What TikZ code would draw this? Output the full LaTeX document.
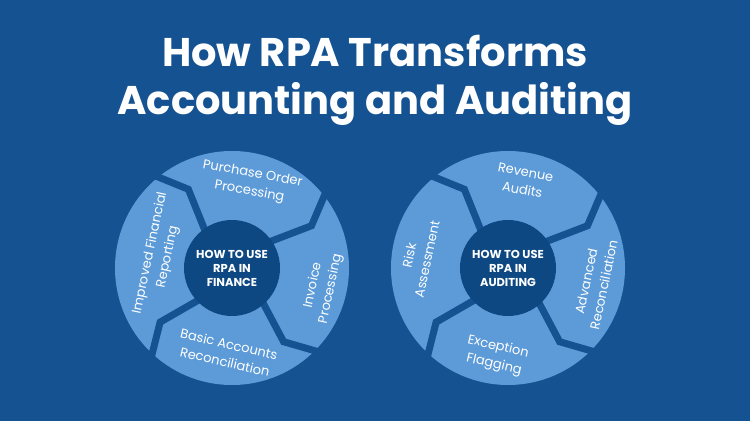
\documentclass[tikz,border=0pt]{standalone}
\usepackage{fontspec}
\setmainfont{Poppins}
\usetikzlibrary{positioning, calc}
\definecolor{bgblue}{RGB}{20,82,145}
\definecolor{segblue}{RGB}{92,155,216}
\definecolor{hubblue}{RGB}{13,72,130}

\begin{document}
\begin{tikzpicture}[x=1pt, y=1pt,
    seg/.style={fill=segblue},
    gapline/.style={draw=bgblue, line width=7pt, line join=miter},
    hub/.style={circle, fill=hubblue, minimum size=96pt, inner sep=0pt, text=white,
        align=center, font=\bfseries\fontsize{11.5}{14}\selectfont},
    segtext/.style={text=white, align=center, font=\fontsize{13}{18}\selectfont}]
    % Background
    \fill[bgblue] (0,0) rectangle (750,421);
    \useasboundingbox (0,0) rectangle (750,421);

    % Title
    \node[text=white, align=center, font=\bfseries\fontsize{40}{48}\selectfont] (title) at (375,341)
        {How RPA Transforms\\Accounting and Auditing};

    % Finance wheel
    \coordinate (c1) at (232,153);
    \fill[seg] (c1) circle (117);
    \draw[gapline] ($(c1)+(128:40)$) -- ($(c1)+(119:90)$) -- ($(c1)+(131:125)$);
    \draw[gapline] ($(c1)+(37:40)$) -- ($(c1)+(28:90)$) -- ($(c1)+(40:125)$);
    \draw[gapline] ($(c1)+(-46:40)$) -- ($(c1)+(-55:90)$) -- ($(c1)+(-43:125)$);
    \draw[gapline] ($(c1)+(-134:40)$) -- ($(c1)+(-143:90)$) -- ($(c1)+(-131:125)$);
    \node[hub] (fin) at (c1) {HOW TO USE\\RPA IN\\FINANCE};
    \node[segtext, rotate=-10] (order) at (251,238) {Purchase Order\\Processing};
    \node[segtext, rotate=78] (invoice) at (322,134) {Invoice\\Processing};
    \node[segtext, rotate=-13] (basic) at (227,68) {Basic Accounts\\Reconciliation};
    \node[segtext, rotate=78] (report) at (159,166) {Improved Financial\\Reporting};

    % Auditing wheel
    \coordinate (c2) at (508,153);
    \fill[seg] (c2) circle (117);
    \draw[gapline] ($(c2)+(128:40)$) -- ($(c2)+(119:90)$) -- ($(c2)+(131:125)$);
    \draw[gapline] ($(c2)+(37:40)$) -- ($(c2)+(28:90)$) -- ($(c2)+(40:125)$);
    \draw[gapline] ($(c2)+(-46:40)$) -- ($(c2)+(-55:90)$) -- ($(c2)+(-43:125)$);
    \draw[gapline] ($(c2)+(-134:40)$) -- ($(c2)+(-143:90)$) -- ($(c2)+(-131:125)$);
    \node[hub] (aud) at (c2) {HOW TO USE\\RPA IN\\AUDITING};
    \node[segtext, rotate=-11] (revenue) at (524,240) {Revenue\\Audits};
    \node[segtext, rotate=78] (advanced) at (595,138) {Advanced\\Reconciliation};
    \node[segtext, rotate=-13] (exception) at (496,65) {Exception\\Flagging};
    \node[segtext, rotate=78] (risk) at (418,164) {Risk\\Assessment};
\end{tikzpicture}
\end{document}
